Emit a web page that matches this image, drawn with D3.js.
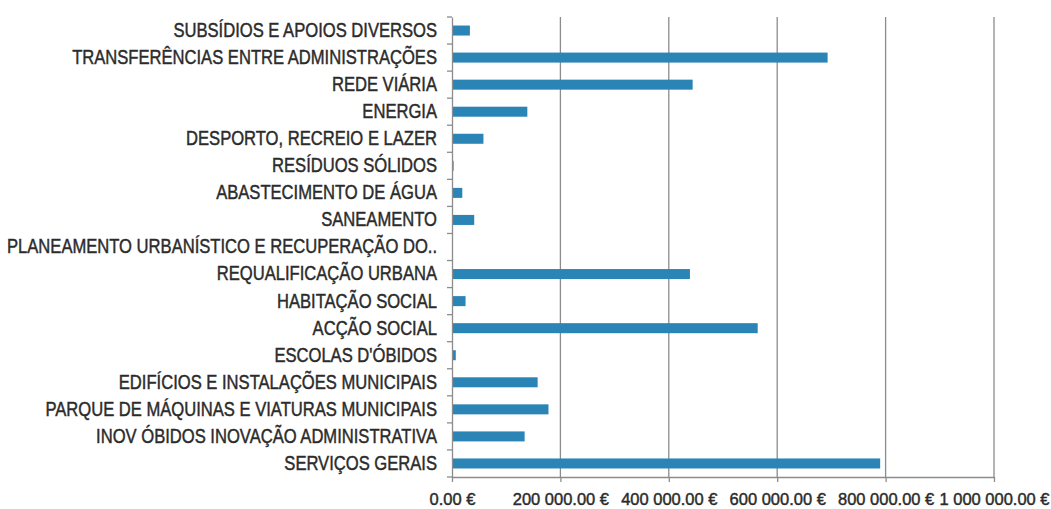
<!DOCTYPE html>
<html>
<head>
<meta charset="utf-8">
<script src="https://cdn.jsdelivr.net/npm/d3@7"></script>
<style>
  body { margin: 0; background: #fff; }
  svg text { font-family: "Liberation Sans", Arial, sans-serif; fill: #2b2b2b; stroke: #2b2b2b; stroke-width: 0.45px; }
</style>
</head>
<body>
<svg id="chart"></svg>
<script>
var width = 1051;
var height = 509;
var margin = {top: 17, right: 57, bottom: 32, left: 452};

var categories = [
  "SUBSÍDIOS E APOIOS DIVERSOS",
  "TRANSFERÊNCIAS ENTRE ADMINISTRAÇÕES",
  "REDE VIÁRIA",
  "ENERGIA",
  "DESPORTO, RECREIO E LAZER",
  "RESÍDUOS SÓLIDOS",
  "ABASTECIMENTO DE ÁGUA",
  "SANEAMENTO",
  "PLANEAMENTO URBANÍSTICO E RECUPERAÇÃO DO..",
  "REQUALIFICAÇÃO URBANA",
  "HABITAÇÃO SOCIAL",
  "ACÇÃO SOCIAL",
  "ESCOLAS D'ÓBIDOS",
  "EDIFÍCIOS E INSTALAÇÕES MUNICIPAIS",
  "PARQUE DE MÁQUINAS E VIATURAS MUNICIPAIS",
  "INOV ÓBIDOS  INOVAÇÃO ADMINISTRATIVA",
  "SERVIÇOS GERAIS"
];

// valores estimados a partir da imagem (euros)
var values = [33000, 693000, 444000, 139000, 58000, 3000, 19000, 41000, 0,
              439000, 25000, 564000, 7000, 158000, 178000, 134000, 790000];

var xTicks = [0, 200000, 400000, 600000, 800000, 1000000];

var locale = d3.formatLocale({decimal: ".", thousands: " ", grouping: [3], currency: ["", " €"]});
var fmt = locale.format("$,.2f");

var xScale = d3.scaleLinear()
               .domain([0, 1000000])
               .range([margin.left, width - margin.right]);

var yScale = d3.scaleBand()
               .domain(categories)
               .range([margin.top, height - margin.bottom])
               .paddingInner(0.63)
               .paddingOuter(0.315);

var svg = d3.select("#chart")
            .attr("width", width)
            .attr("height", height);

// grid
svg.append("g")
   .selectAll("line")
   .data(xTicks.slice(1))
   .enter()
   .append("line")
     .attr("x1", d => xScale(d))
     .attr("x2", d => xScale(d))
     .attr("y1", margin.top)
     .attr("y2", height - margin.bottom)
     .attr("stroke", "#8c8c8c")
     .attr("stroke-width", 1.3);

// bars
svg.append("g")
   .selectAll("rect")
   .data(values)
   .enter()
   .append("rect")
     .attr("x", xScale(0))
     .attr("y", (d, i) => yScale(categories[i]))
     .attr("width", d => xScale(d) - xScale(0))
     .attr("height", yScale.bandwidth())
     .attr("fill", "#2a84b6");

// texto estreito (tipo Arial Narrow)
function narrow(sel, size, sx) {
  sel.each(function () {
    var t = d3.select(this);
    var x = +t.attr("x") || 0;
    var y = +t.attr("y") || 0;
    t.attr("x", 0).attr("y", 0)
     .attr("font-size", size)
     .attr("transform", "translate(" + x + "," + y + ") scale(" + sx + ",1)");
  });
}

// bottom axis
var xAxis = d3.axisBottom(xScale)
              .tickValues(xTicks)
              .tickFormat(fmt)
              .tickSize(5)
              .tickSizeOuter(0)
              .tickPadding(11);

var gx = svg.append("g")
   .attr("transform", "translate(0," + (height - margin.bottom) + ")")
   .call(xAxis);
gx.selectAll("path, line").attr("stroke", "#8c8c8c").attr("stroke-width", 1.3);
gx.selectAll("text").call(narrow, 17, 0.97);

// left axis
var yAxis = d3.axisLeft(yScale)
              .tickSize(0)
              .tickPadding(15);

var gy = svg.append("g")
   .attr("transform", "translate(" + margin.left + ",0)")
   .call(yAxis);
gy.select(".domain").attr("stroke", "#8c8c8c").attr("stroke-width", 1.3);
gy.selectAll("text").call(narrow, 20, 0.83);

// marcas entre categorias
var step = yScale.step();
var bounds = d3.range(categories.length + 1).map(i => margin.top + i * step);
gy.selectAll(".sep")
  .data(bounds)
  .enter()
  .append("line")
    .attr("class", "sep")
    .attr("x1", -5)
    .attr("x2", 0)
    .attr("y1", d => d)
    .attr("y2", d => d)
    .attr("stroke", "#8c8c8c")
    .attr("stroke-width", 1.3);
</script>
</body>
</html>
